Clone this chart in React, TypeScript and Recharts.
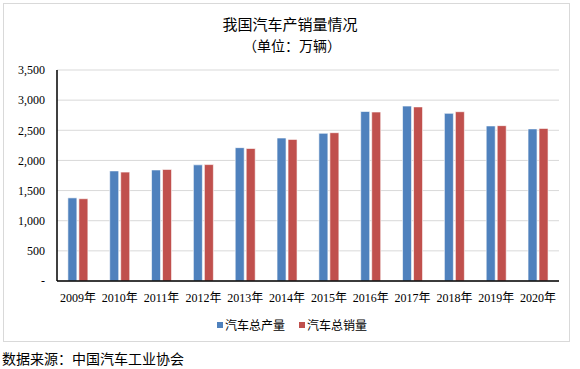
import React from "react";
import {
  BarChart,
  Bar,
  XAxis,
  YAxis,
  CartesianGrid,
} from "recharts";

const years = [
  "2009年", "2010年", "2011年", "2012年", "2013年", "2014年",
  "2015年", "2016年", "2017年", "2018年", "2019年", "2020年",
];
const production = [1379, 1826, 1842, 1927, 2212, 2372, 2450, 2812, 2902, 2781, 2572, 2523];
const sales = [1365, 1806, 1851, 1931, 2198, 2349, 2460, 2803, 2888, 2808, 2577, 2531];
const yTicks = [0, 500, 1000, 1500, 2000, 2500, 3000, 3500];

const seriesNames = ["汽车总产量", "汽车总销量"];
const colors = ["#4F81BD", "#C0504D"];

const FONT = "'Liberation Serif', 'Noto Sans CJK SC', serif";

const App: React.FC = () => {
  // Format data for recharts
  const data = years.map((year, i) => ({
    year,
    production: production[i],
    sales: sales[i],
  }));

  const formatY = (v: number) => (v === 0 ? "-" : v.toLocaleString("en-US"));

  return (
    <div
      style={{
        position: "absolute",
        left: 0,
        top: 0,
        width: 580,
        height: 369,
        background: "#fff",
        fontFamily: FONT,
        color: "#000",
      }}
    >
      {/* outer frame */}
      <div
        style={{
          position: "absolute",
          left: 3,
          top: 3,
          width: 565,
          height: 337,
          border: "1px solid #d9d9d9",
        }}
      />
      <div style={{ position: "absolute", top: 13, width: 580, textAlign: "center", fontSize: 15 }}>
        我国汽车产销量情况
      </div>
      <div style={{ position: "absolute", top: 35, left: 2, width: 580, textAlign: "center", fontSize: 14 }}>
        （单位：万辆）
      </div>

      <div style={{ position: "absolute", left: 0, top: 0 }}>
        <BarChart
          width={580}
          height={369}
          data={data}
          margin={{ top: 70, right: 21, left: 7, bottom: 58 }}
          barCategoryGap="26%"
          barGap={2}
        >
          <CartesianGrid vertical={false} stroke="#d9d9d9" />
          <XAxis
            dataKey="year"
            axisLine={{ stroke: "#000", strokeWidth: 1.5 }}
            tickLine={false}
            tickMargin={6}
            interval={0}
            tick={{ fill: "#000", fontSize: 12, fontFamily: FONT }}
          />
          <XAxis
            xAxisId="top"
            dataKey="year"
            orientation="top"
            height={0}
            tick={false}
            tickLine={false}
            axisLine={{ stroke: "#000", strokeWidth: 1.5 }}
          />
          <YAxis
            width={50}
            domain={[0, 3500]}
            ticks={yTicks}
            tickFormatter={formatY}
            axisLine={{ stroke: "#000", strokeWidth: 1.5 }}
            tickLine={false}
            tickMargin={6}
            tick={{ fill: "#000", fontSize: 12, fontFamily: FONT }}
          />
          <YAxis
            yAxisId="right"
            orientation="right"
            width={0}
            domain={[0, 3500]}
            tick={false}
            tickLine={false}
            axisLine={{ stroke: "#000", strokeWidth: 1.5 }}
          />
          <Bar
            dataKey="production"
            name={seriesNames[0]}
            fill={colors[0]}
            stroke="rgba(255,255,255,0.6)"
            strokeWidth={1}
            isAnimationActive={false}
          />
          <Bar
            dataKey="sales"
            name={seriesNames[1]}
            fill={colors[1]}
            stroke="rgba(255,255,255,0.6)"
            strokeWidth={1}
            isAnimationActive={false}
          />
        </BarChart>
      </div>

      {/* legend */}
      <div
        style={{
          position: "absolute",
          top: 316,
          width: 580,
          display: "flex",
          justifyContent: "center",
          fontSize: 12,
          gap: 14,
          paddingLeft: 2,
        }}
      >
        {seriesNames.map((name, i) => (
          <span key={name} style={{ display: "flex", alignItems: "center" }}>
            <span
              style={{
                display: "inline-block",
                width: 6,
                height: 6,
                background: colors[i],
                marginRight: 2,
              }}
            />
            {name}
          </span>
        ))}
      </div>

      <div style={{ position: "absolute", left: 2, top: 348, fontSize: 14 }}>
        数据来源：中国汽车工业协会
      </div>
    </div>
  );
};

export default App;
